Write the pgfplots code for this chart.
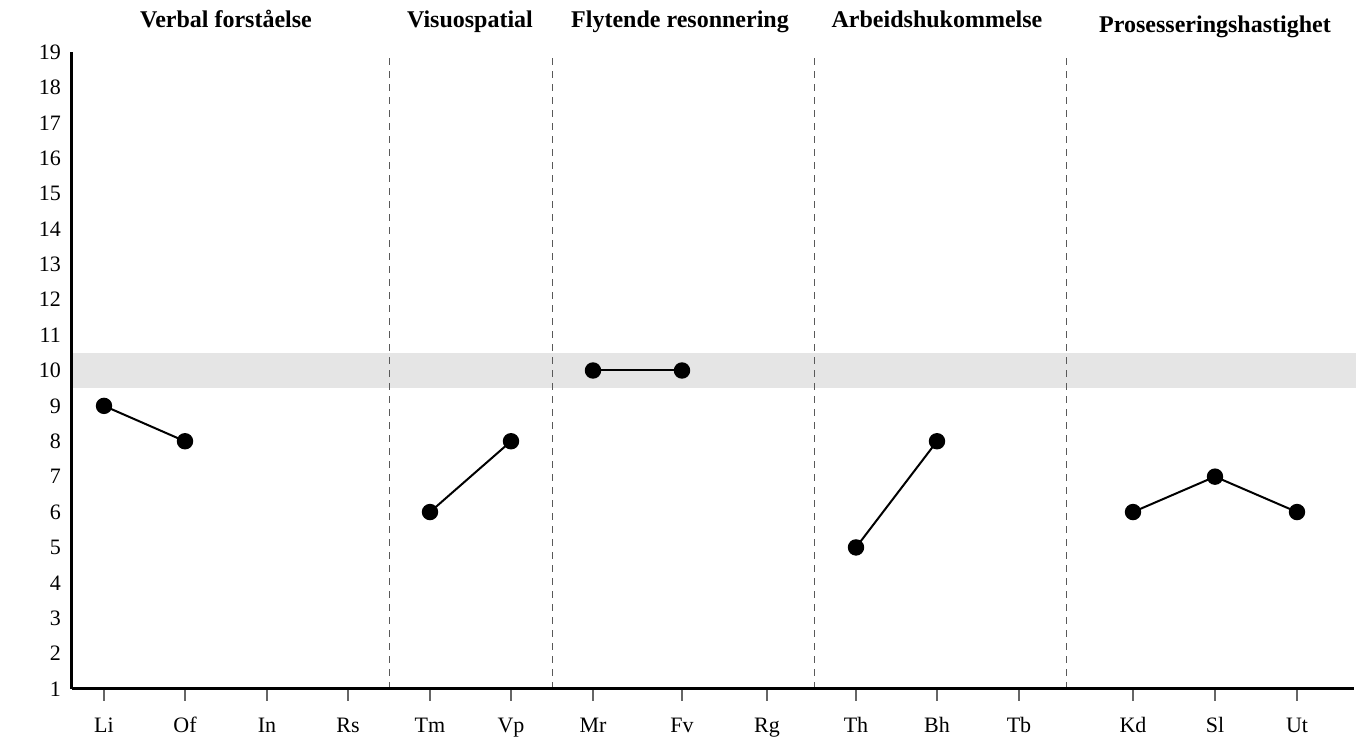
\documentclass[border=0pt]{standalone}
\usepackage{pgfplots}
\pgfplotsset{compat=1.18}
\usepackage{fontspec}
\setmainfont{Liberation Serif}
\definecolor{band}{RGB}{229,229,229}
\begin{document}
\begin{tikzpicture}
\begin{axis}[
    scale only axis,
    width=641pt, height=318.5pt,
    xmin=72, xmax=1354,
    ymin=1, ymax=19,
    axis x line=bottom, axis y line=left,
    axis line style={line width=1.5pt, -},
    xtick={104,185,267,348,430,511,593,682,767,856,937,1019,1133,1215,1297},
    xticklabels={Li,Of,In,Rs,Tm,Vp,Mr,Fv,Rg,Th,Bh,Tb,Kd,Sl,Ut},
    ytick={1,2,...,19},
    tick align=outside,
    major tick length=6pt,
    xtick style={black!60, line width=0.75pt},
    ytick style={draw=none},
    tick label style={font=\fontsize{11}{13}\selectfont},
    xticklabel style={yshift=-4.5pt, text height=7.6pt, text depth=2.4pt},
    yticklabel style={xshift=4pt},
    /pgf/number format/assume math mode=true,
    clip=false,
    axis on top,
    score/.style={black, solid, line width=1pt, mark=*, mark size=3.6pt, mark options={solid, fill=black}},
    sep/.style={black!65, line width=0.5pt, dash pattern=on 3.5pt off 3pt, forget plot},
]
% grey band 9.5-10.5
\fill[band] (axis cs:72,9.5) rectangle (axis cs:1356,10.5);

% group separators
\addplot[sep] coordinates {(389,1) (389,18.9)};
\addplot[sep] coordinates {(552,1) (552,18.9)};
\addplot[sep] coordinates {(814,1) (814,18.9)};
\addplot[sep] coordinates {(1066,1) (1066,18.9)};

% scores
\addplot[score] coordinates {(104,9) (185,8)};
\addplot[score] coordinates {(430,6) (511,8)};
\addplot[score] coordinates {(593,10) (682,10)};
\addplot[score] coordinates {(856,5) (937,8)};
\addplot[score] coordinates {(1133,6) (1215,7) (1297,6)};

% group titles
\begin{scope}[every node/.style={anchor=base, font=\fontsize{12}{14}\selectfont\bfseries}]
\node at (axis cs:226,19.68) {Verbal forståelse};
\node at (axis cs:470,19.68) {Visuospatial};
\node at (axis cs:680,19.68) {Flytende resonnering};
\node at (axis cs:937,19.68) {Arbeidshukommelse};
\node at (axis cs:1215,19.54) {Prosesseringshastighet};
\end{scope}

\coordinate (bl) at (axis cs:0,-0.6106);
\coordinate (tr) at (axis cs:1356,20.469);
\end{axis}
\pgfresetboundingbox
\useasboundingbox (bl) rectangle (tr);
\end{tikzpicture}
\end{document}
